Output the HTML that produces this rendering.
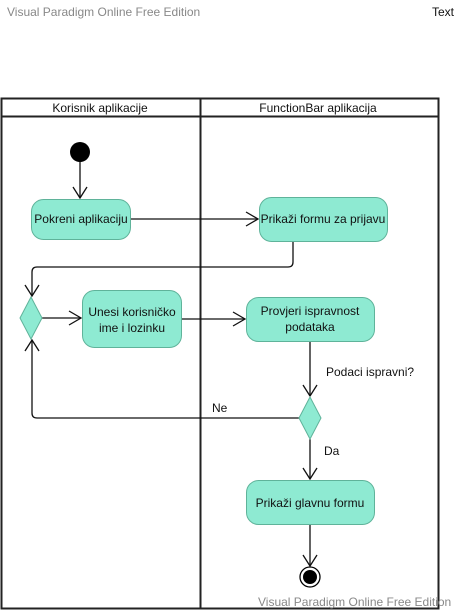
<!DOCTYPE html>
<html><head><meta charset="utf-8"><style>
body{margin:0;width:457px;height:611px;overflow:hidden;background:#fff}
svg{display:block}
text{font-family:"Liberation Sans",sans-serif;font-size:12px;fill:#111}
</style></head><body>
<svg width="457" height="611" viewBox="0 0 457 611">
<text x="7" y="16" style="fill:#888">Visual Paradigm Online Free Edition</text>
<text x="432" y="16">Text</text>
<g stroke="#222" stroke-width="2" fill="none">
<rect x="1.5" y="98.5" width="437" height="510"/>
<line x1="1" y1="116.5" x2="439" y2="116.5"/>
<line x1="200.5" y1="98" x2="200.5" y2="609"/>
</g>
<text x="100" y="112" text-anchor="middle">Korisnik aplikacije</text>
<text x="318" y="112" text-anchor="middle">FunctionBar aplikacija</text>
<g stroke="#111" stroke-width="1.3" fill="none">
<line x1="80" y1="160" x2="80" y2="198"/><polyline points="73,187 80,198 87,187"/>
<line x1="130" y1="219" x2="258" y2="219"/><polyline points="246,212 258,219 246,226"/>
<path d="M293,241 V262 Q293,267 288,267 H37 Q32,267 32,272 V296"/><polyline points="25,285 32,296 39,285"/>
<line x1="42" y1="318" x2="81" y2="318"/><polyline points="69,311 81,318 69,325"/>
<line x1="181" y1="319" x2="245" y2="319"/><polyline points="233,312 245,319 233,326"/>
<line x1="310" y1="341" x2="310" y2="396"/><polyline points="303,385 310,396 317,385"/>
<path d="M299,418 H37 Q32,418 32,413 V340"/><polyline points="25,351 32,340 39,351"/>
<line x1="310" y1="439" x2="310" y2="479"/><polyline points="303,468 310,479 317,468"/>
<line x1="310" y1="524" x2="310" y2="566"/><polyline points="303,555 310,566 317,555"/>
</g>
<circle cx="80" cy="152" r="10" fill="#000"/>
<g fill="#8eead2" stroke="#5fb39a" stroke-width="1">
<rect x="31.5" y="199.5" width="99" height="40" rx="12"/>
<rect x="259.5" y="197.5" width="128" height="44" rx="12"/>
<polygon points="31,297 42,318 31,339 20,318"/>
<rect x="82.5" y="290.5" width="99" height="57" rx="12"/>
<rect x="246.5" y="297.5" width="128" height="44" rx="12"/>
<polygon points="310,397 321,418 310,439 299,418"/>
<rect x="246.5" y="480.5" width="128" height="44" rx="12"/>
</g>
<text x="81" y="223" text-anchor="middle">Pokreni aplikaciju</text>
<text x="323" y="223" text-anchor="middle">Prikaži formu za prijavu</text>
<text x="132" y="316" text-anchor="middle">Unesi korisničko</text>
<text x="132" y="332" text-anchor="middle">ime i lozinku</text>
<text x="310" y="315" text-anchor="middle">Provjeri ispravnost</text>
<text x="310" y="331" text-anchor="middle">podataka</text>
<text x="310" y="507" text-anchor="middle">Prikaži glavnu formu</text>
<text x="326" y="376">Podaci ispravni?</text>
<text x="212" y="412">Ne</text>
<text x="324" y="455">Da</text>
<circle cx="310" cy="577" r="10" fill="#fff" stroke="#000" stroke-width="1.3"/>
<circle cx="310" cy="577" r="7" fill="#000"/>
<text x="258" y="606" style="fill:#888">Visual Paradigm Online Free Edition</text>
</svg>
</body></html>
